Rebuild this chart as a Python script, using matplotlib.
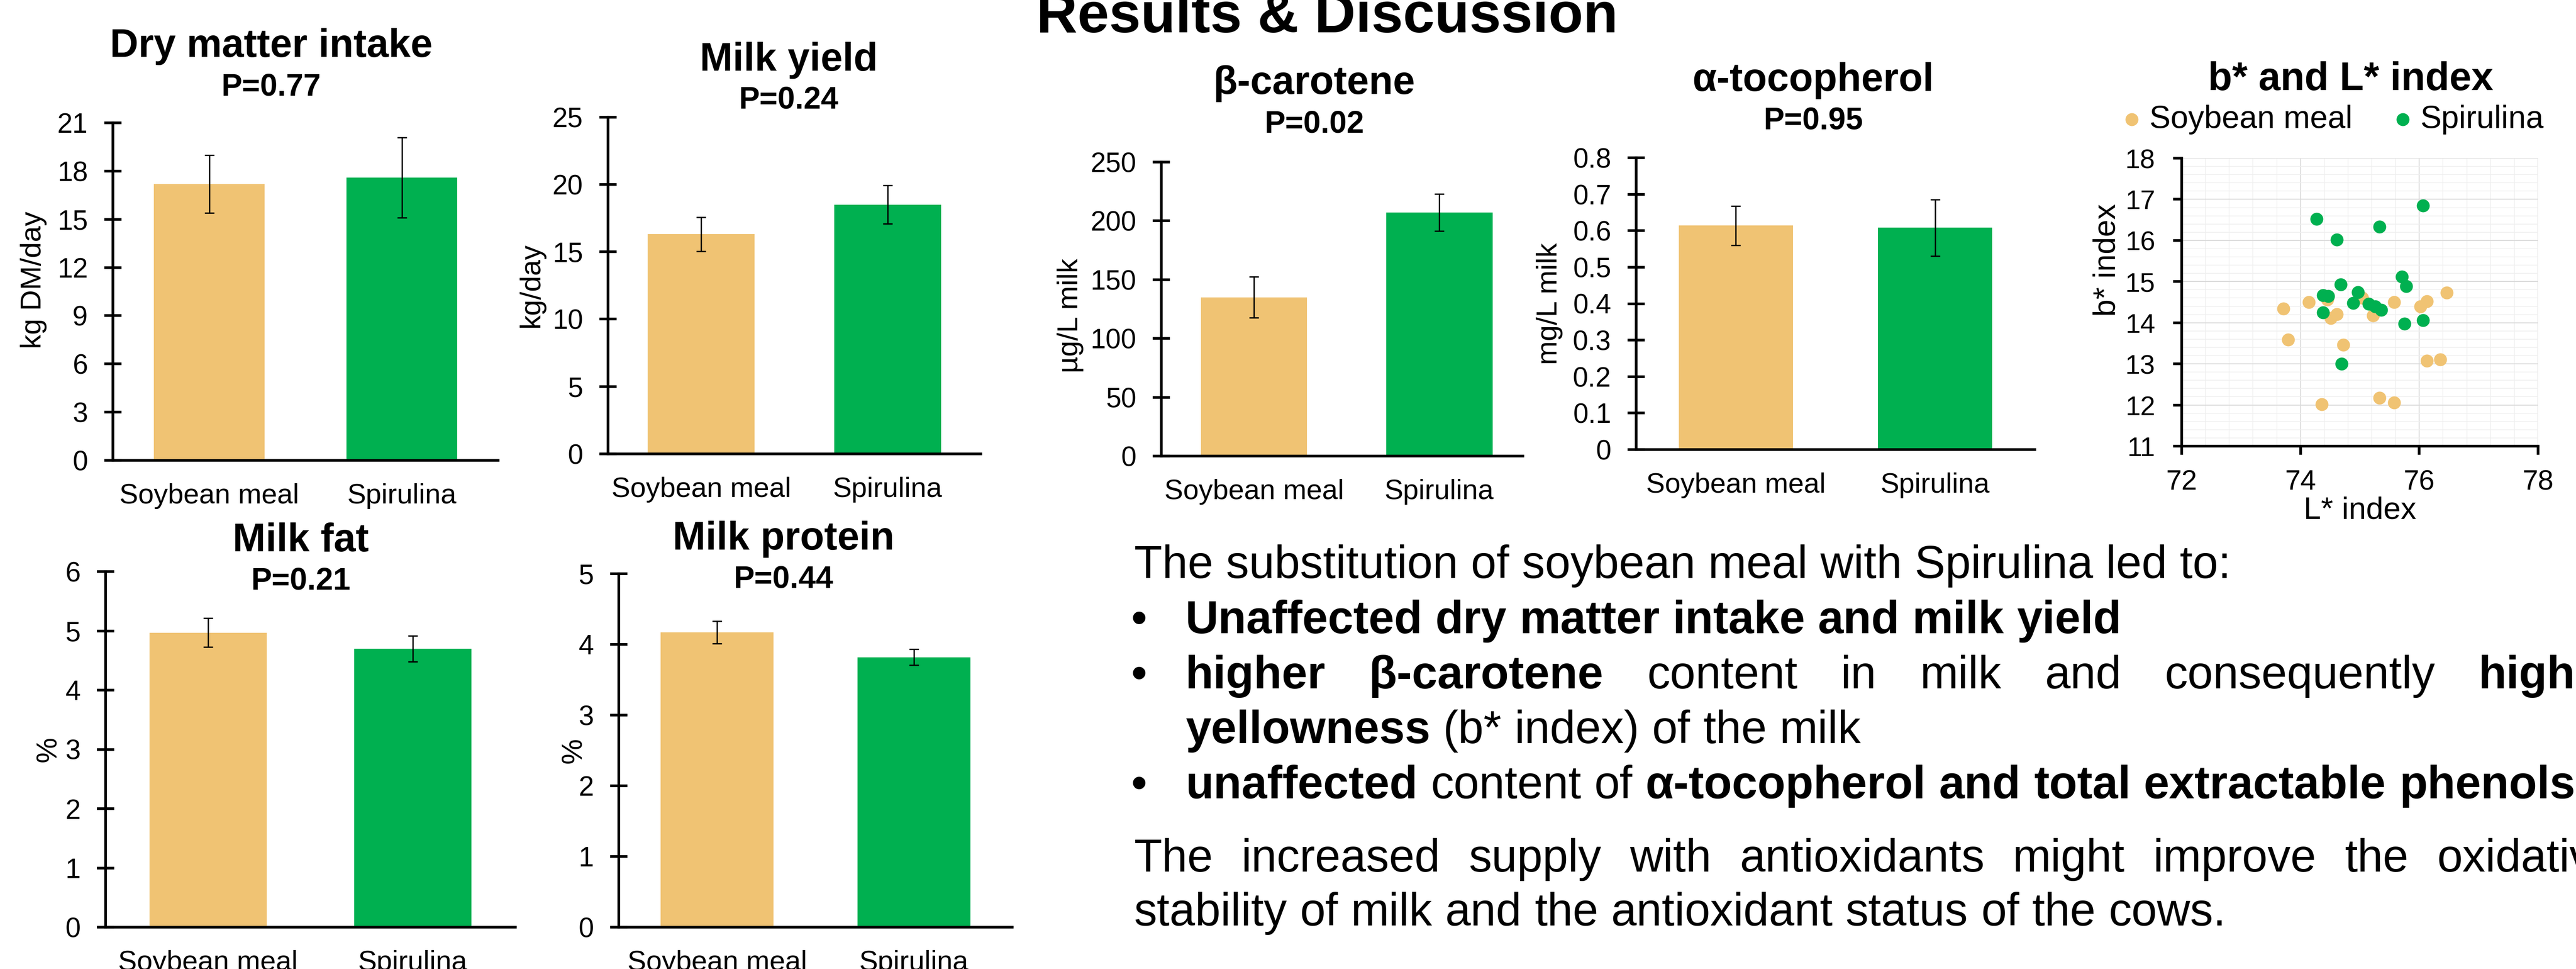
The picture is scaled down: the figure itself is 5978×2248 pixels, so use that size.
import matplotlib
matplotlib.use("Agg")
import matplotlib.pyplot as plt
from matplotlib.ticker import FuncFormatter, MultipleLocator


W, H = 5978, 2248
DPI = 100

SOY = "#F0C373"
SPI = "#00B050"

groups = ["Soybean meal", "Spirulina"]

# bar panels: mean and error per group
titles = ["Dry matter intake", "Milk yield", "β-carotene", "α-tocopherol", "Milk fat", "Milk protein"]
p_values = ["P=0.77", "P=0.24", "P=0.02", "P=0.95", "P=0.21", "P=0.44"]
y_labels = ["kg DM/day", "kg/day", "µg/L milk", "mg/L milk", "%", "%"]
y_max = [21, 25, 250, 0.8, 6, 5]
y_step = [3, 5, 50, 0.1, 1, 1]

dmi_mean = [17.2, 17.6]
dmi_err = [1.8, 2.5]
yield_mean = [16.3, 18.5]
yield_err = [1.26, 1.43]
carotene_mean = [135, 207]
carotene_err = [17.4, 15.8]
tocopherol_mean = [0.614, 0.608]
tocopherol_err = [0.054, 0.077]
fat_mean = [4.97, 4.70]
fat_err = [0.245, 0.22]
protein_mean = [4.17, 3.82]
protein_err = [0.16, 0.115]

means = [dmi_mean, yield_mean, carotene_mean, tocopherol_mean, fat_mean, protein_mean]
errors = [dmi_err, yield_err, carotene_err, tocopherol_err, fat_err, protein_err]

# scatter: L* index vs b* index per cow
soy_L = [73.71, 73.79, 74.14, 74.45, 74.61, 74.51, 74.72, 74.36, 75.04,
         75.22, 75.58, 75.33, 75.58, 76.02, 76.13, 76.46, 76.13, 76.35]
soy_b = [14.34, 13.59, 14.50, 14.56, 14.21, 14.11, 13.46, 12.02, 14.60,
         14.18, 14.50, 12.17, 12.06, 14.39, 14.52, 14.73, 13.08, 13.11]
spi_L = [74.27, 76.06, 75.33, 74.61, 75.71, 75.78, 74.68, 74.97, 74.38,
         74.47, 74.89, 75.15, 75.26, 75.36, 74.38, 75.75, 76.06, 74.69]
spi_b = [16.52, 16.85, 16.33, 16.02, 15.12, 14.89, 14.93, 14.74, 14.67,
         14.65, 14.48, 14.46, 14.40, 14.31, 14.25, 13.98, 14.06, 13.00]

# layout in reference pixels: (left, right, top, bottom), x max, title x, title/P baselines, ylabel coords
bar_layout = [
    dict(box=(262, 1156, 285, 1068), xmax=1.5, tx=629, ty=132, py=222, lab=(-0.1715, 0.534)),
    dict(box=(1411, 2276, 271.5, 1053), xmax=1.5, tx=1830, ty=164, py=252, lab=(-0.169, 0.5)),
    dict(box=(2695, 3534, 376, 1058), xmax=1.45, tx=3050, ty=218, py=307, lab=(-0.215, 0.478)),
    dict(box=(3797, 4722, 366, 1043), xmax=1.5, tx=4208, ty=211, py=300, lab=(-0.184, 0.5)),
    dict(box=(245, 1196, 1326, 2151), xmax=1.5, tx=698, ty=1279, py=1367, lab=(-0.106, 0.5)),
    dict(box=(1436, 2349, 1331, 2151), xmax=1.5, tx=1818, ty=1275, py=1364, lab=(-0.08, 0.5)),
]

plt.rcParams["font.family"] = ["Liberation Sans", "DejaVu Sans"]
plt.rcParams["axes.unicode_minus"] = False

fig = plt.figure(figsize=(W / DPI, H / DPI), dpi=DPI)


def fx(x):
    return x / W


def fy(y):
    return 1 - y / H


def add_box(left, right, top, bottom):
    return fig.add_axes([fx(left), fy(bottom), (right - left) / W, (bottom - top) / H])


fmt = FuncFormatter(lambda v, _: f"{v:g}")

for i, lay in enumerate(bar_layout):
    ax = add_box(*lay["box"])
    ax.bar([0, 1], means[i], width=0.573, color=[SOY, SPI], zorder=2)
    ax.errorbar([0, 1], means[i], yerr=errors[i], fmt="none", ecolor="black",
                elinewidth=2.3, capsize=8, capthick=2.3, zorder=3)
    ax.set_xlim(-0.5, lay["xmax"])
    ax.set_ylim(0, y_max[i])
    ax.yaxis.set_major_locator(MultipleLocator(y_step[i]))
    ax.yaxis.set_major_formatter(fmt)
    ax.set_xticks([0, 1])
    ax.set_xticklabels(groups)
    for side in ("top", "right"):
        ax.spines[side].set_visible(False)
    for side in ("left", "bottom"):
        ax.spines[side].set_linewidth(4.5)
        ax.spines[side].set_zorder(4)
    ax.tick_params(axis="y", direction="inout", length=28.8, width=4.5, pad=27.4, labelsize=46)
    ax.tick_params(axis="x", length=0, pad=38, labelsize=47)
    ax.set_ylabel(y_labels[i], fontsize=48)
    ax.yaxis.set_label_coords(*lay["lab"])
    fig.text(fx(lay["tx"]), fy(lay["ty"]), titles[i], ha="center", va="baseline",
             fontsize=66, fontweight="bold")
    fig.text(fx(lay["tx"]), fy(lay["py"]), p_values[i], ha="center", va="baseline",
             fontsize=52, fontweight="bold")

# colour scatter
ax = add_box(5063, 5890, 367, 1035)
ax.scatter(soy_L, soy_b, s=467, color=SOY, linewidths=0, zorder=3, label=groups[0])
ax.scatter(spi_L, spi_b, s=467, color=SPI, linewidths=0, zorder=3, label=groups[1])
ax.set_xlim(72, 78)
ax.set_ylim(11, 18)
ax.xaxis.set_major_locator(MultipleLocator(2))
ax.xaxis.set_minor_locator(MultipleLocator(0.4))
ax.yaxis.set_major_locator(MultipleLocator(1))
ax.yaxis.set_minor_locator(MultipleLocator(0.2))
ax.set_axisbelow(True)
ax.grid(which="major", color="#D9D9D9", linewidth=1.6)
ax.grid(which="minor", color="#EFEFEF", linewidth=1.2)
for side in ("top", "right"):
    ax.spines[side].set_visible(False)
for side in ("left", "bottom"):
    ax.spines[side].set_linewidth(4.5)
ax.tick_params(which="minor", length=0)
ax.tick_params(axis="y", direction="out", length=14.4, width=4.5, pad=30, labelsize=45)
ax.tick_params(axis="x", direction="out", length=14.4, width=4.5, pad=24.5, labelsize=47)
ax.set_xlabel("L* index", fontsize=52)
ax.xaxis.set_label_coords(0.5, -0.1737)
ax.set_ylabel("b* index", fontsize=52)
ax.yaxis.set_label_coords(-0.169, 0.647)
fig.text(fx(5455), fy(209), "b* and L* index", ha="center", va="baseline",
         fontsize=66, fontweight="bold")
ax.legend(loc="center left", bbox_to_anchor=(fx(4925), fy(277)), bbox_transform=fig.transFigure,
          ncol=2, frameon=False, fontsize=53, handlelength=0.6, handletextpad=0.25,
          columnspacing=1.3, borderpad=0, borderaxespad=0, scatterpoints=1)

# heading, cut at the top edge
fig.text(fx(3080), fy(75), "Results & Discussion", ha="center", va="baseline",
         fontsize=95, fontweight="bold")

# text block
BODY = 76.7
renderer = fig.canvas.get_renderer()
space_px = 0.278 * BODY * DPI / 72


def word_width(word, weight):
    t = fig.text(0, 0, word, fontsize=BODY, fontweight=weight)
    w = t.get_window_extent(renderer).width
    t.remove()
    return w


def put_words(words, x0, y, x_last=None):
    widths = [word_width(w, wt) for w, wt in words]
    if x_last is None:
        gap = space_px
    else:
        gap = (x_last - x0 - sum(widths[:-1])) / (len(words) - 1)
    x = x0
    for (w, wt), wd in zip(words, widths):
        fig.text(fx(x), fy(y), w, fontsize=BODY, fontweight=wt, va="baseline")
        x += wd + gap


def split(text, weight):
    return [(w, weight) for w in text.split()]


def bullet(y):
    fig.text(fx(2643), fy(y), "•", fontsize=BODY, ha="center", va="baseline")


fig.text(fx(2632), fy(1341), "The substitution of soybean meal with Spirulina led to:",
         fontsize=BODY, va="baseline")

bullet(1469)
put_words(split("Unaffected dry matter intake and milk yield", "bold"), 2751, 1469)

bullet(1597)
put_words(split("higher β-carotene", "bold") + split("content in milk and consequently", "normal")
          + split("higher", "bold"), 2751, 1597, x_last=5752)
put_words(split("yellowness", "bold") + split("(b* index) of the milk", "normal"), 2751, 1724)

bullet(1852)
put_words(split("unaffected", "bold") + split("content of", "normal")
          + split("α-tocopherol and total extractable phenols", "bold"), 2751, 1852, x_last=5568)

put_words(split("The increased supply with antioxidants might improve the oxidative", "normal"),
          2632, 2022, x_last=5655)
put_words(split("stability of milk and the antioxidant status of the cows.", "normal"), 2632, 2147)

fig.savefig("out.png", dpi=DPI)
